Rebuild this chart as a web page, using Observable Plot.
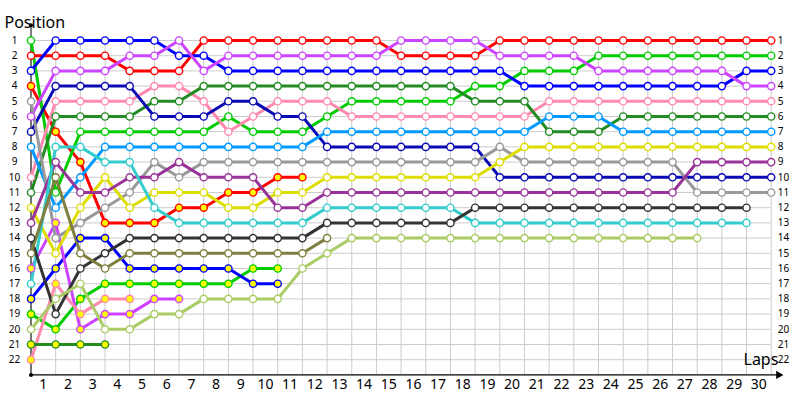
<!DOCTYPE html>
<html>
<head>
<meta charset="utf-8">
<script src="https://cdn.jsdelivr.net/npm/d3@7"></script>
<script src="https://cdn.jsdelivr.net/npm/@observablehq/plot@0.6"></script>
<style>
  html, body { margin: 0; padding: 0; background: #fff; }
  #chart svg { display: block; }
</style>
</head>
<body>
<div id="chart"></div>
<script>
// ---- data ----
const laps = d3.range(0, 31);          // columns: start (0) .. lap 30
const lapLabels = d3.range(1, 31);     // tick labels 1..30
const positionTicks = d3.range(1, 23); // 1..22

const driverNames  = ["Red A","Red B","Green A","Green B","Blue A","Blue B","Violet A","Violet B",
                      "Pink A","Pink B","DarkGreen A","DarkGreen B","DarkBlue","LightBlue","Grey",
                      "Yellow","Purple","Cyan","Black","Olive","LightOlive"];
const driverColors = ["#ff0000","#ff0000","#00cc00","#00cc00","#0000ff","#0000ff","#cc44ff","#cc44ff",
                      "#ff8aae","#ff8aae","#228b22","#228b22","#0a0ab4","#0099ff","#999999",
                      "#dddd00","#993399","#33cccc","#333333","#7f7f3f","#aacc66"];
const driverFills  = ["#ffffff","#ffff00","#ffffff","#ffff00","#ffffff","#ffff00","#ffffff","#ffff00",
                      "#ffffff","#ffff00","#ffffff","#ffff00","#ffffff","#ffffff","#ffffff",
                      "#ffffff","#ffffff","#ffffff","#ffffff","#ffffff","#ffffff"];

const posRedA       = [2,2,2,2,3,3,3,1,1,1,1,1,1,1,1,2,2,2,2,1,1,1,1,1,1,1,1,1,1,1,1];
const posRedB       = [4,7,9,13,13,13,12,12,11,11,10,10];
const posGreenA     = [1,11,7,7,7,7,7,7,6,7,7,7,6,5,5,5,5,5,4,4,3,3,3,2,2,2,2,2,2,2,2];
const posGreenB     = [19,20,18,17,17,17,17,17,17,16,16];
const posBlueA      = [3,1,1,1,1,1,2,2,3,3,3,3,3,3,3,3,3,3,3,3,4,4,4,4,4,4,4,4,4,3,3];
const posBlueB      = [18,16,14,14,16,16,16,16,16,17,17];
const posVioletA    = [6,3,3,3,2,2,1,3,2,2,2,2,2,2,2,1,1,1,1,2,2,2,2,3,3,3,3,3,3,4,4];
const posVioletB    = [16,13,20,19,19,18,18];
const posPinkA      = [10,5,5,5,5,4,4,5,7,6,5,5,5,6,6,6,6,6,6,6,6,5,5,5,5,5,5,5,5,5,5];
const posPinkB      = [22,17,19,18,18];
const posDarkGreenA = [11,6,6,6,6,5,5,4,4,4,4,4,4,4,4,4,4,4,5,5,5,7,7,7,6,6,6,6,6,6,6];
const posDarkGreenB = [21,21,21,21];
const posDarkBlue   = [7,4,4,4,4,6,6,6,5,5,6,6,8,8,8,8,8,8,8,10,10,10,10,10,10,10,10,10,10,10,10];
const posLightBlue  = [8,12,10,8,8,8,8,8,8,8,8,8,7,7,7,7,7,7,7,7,7,6,6,6,7,7,7,7,7,7,7];
const posGrey       = [5,14,13,12,11,9,10,9,9,9,9,9,9,9,9,9,9,9,9,8,9,9,9,9,9,9,9,11,11,11,11];
const posYellow     = [12,15,12,10,12,11,11,11,12,12,11,11,10,10,10,10,10,10,10,9,8,8,8,8,8,8,8,8,8,8,8];
const posPurple     = [13,9,11,11,10,10,9,10,10,10,12,12,11,11,11,11,11,11,11,11,11,11,11,11,11,11,11,9,9,9,9];
const posCyan       = [17,8,8,9,9,12,13,13,13,13,13,13,12,12,12,12,12,12,13,13,13,13,13,13,13,13,13,13,13,13];
const posBlack      = [14,19,16,15,14,14,14,14,14,14,14,14,13,13,13,13,13,13,12,12,12,12,12,12,12,12,12,12,12,12];
const posOlive      = [15,10,15,16,15,15,15,15,15,15,15,15,14];
const posLightOlive = [20,18,17,20,20,19,19,18,18,18,18,16,15,14,14,14,14,14,14,14,14,14,14,14,14,14,14,14];

const series = [posRedA,posRedB,posGreenA,posGreenB,posBlueA,posBlueB,posVioletA,posVioletB,
                posPinkA,posPinkB,posDarkGreenA,posDarkGreenB,posDarkBlue,posLightBlue,posGrey,
                posYellow,posPurple,posCyan,posBlack,posOlive,posLightOlive];

// long table built from the arrays
const rows = [];
series.forEach((arr, i) => arr.forEach((p, lap) => rows.push({
  driver: driverNames[i], color: driverColors[i], fill: driverFills[i], lap, pos: p
})));

// ---- chart ----
const font = "'Noto Sans', 'DejaVu Sans', sans-serif";
const chart = Plot.plot({
  width: 800,
  height: 400,
  marginLeft: 30.5,
  marginRight: 29.3,
  marginTop: 40,
  marginBottom: 25.6,
  x: {domain: [0, 30], axis: null},
  y: {domain: [1, 23], reverse: true, axis: null},
  color: {type: "identity"},
  style: {fontFamily: font, background: "#fff", overflow: "visible"},
  marks: [
    // grid
    Plot.ruleX(laps, {x: d => d, y1: 1, y2: 23, stroke: "#cccccc", strokeWidth: 1}),
    Plot.ruleY(positionTicks, {y: d => d, x1: 0, x2: 30, stroke: "#cccccc", strokeWidth: 1}),
    // axes
    Plot.ruleX([0], {x: d => d, y1: 0, y2: 23, stroke: "#000", strokeWidth: 1}),
    Plot.ruleY([23], {y: d => d, x1: 0, x2: 30.3, stroke: "#000", strokeWidth: 1.2}),
    Plot.dot([0, 23], {x: () => 0, y: d => d, r: 2, fill: "#000", stroke: null}),
    Plot.dot([30.3], {x: d => d, y: () => 23, symbol: "triangle2", rotate: 90, r: 4, fill: "#000", stroke: null}),
    // driver lines
    Plot.line(rows, {x: "lap", y: "pos", z: "driver", stroke: "color", strokeWidth: 3, strokeLinejoin: "round"}),
    // driver markers
    Plot.dot(rows, {x: "lap", y: "pos", r: 3.6, fill: "fill", stroke: "color", strokeWidth: 1.4}),
    // position labels
    Plot.text(positionTicks, {y: d => d, text: d => String(d), frameAnchor: "left", dx: -16.5,
      textAnchor: "middle", fontSize: 10, fill: "#000"}),
    Plot.text(positionTicks, {y: d => d, text: d => String(d), frameAnchor: "right", dx: 6.5,
      textAnchor: "start", fontSize: 10, fill: "#000"}),
    // lap labels (centered between columns)
    Plot.text(lapLabels, {x: d => d - 0.5, text: d => String(d), frameAnchor: "bottom", dy: 14.1,
      fontSize: 14, fill: "#000"}),
    // titles
    Plot.text(["Position"], {text: d => d, frameAnchor: "top-left", dx: -26.5, dy: -24.1,
      textAnchor: "start", fontSize: 16, fill: "#000"}),
    Plot.text(["Laps"], {text: d => d, frameAnchor: "bottom-right", dx: -27.7, dy: -9.5,
      textAnchor: "start", fontSize: 16, fill: "#000"})
  ]
});
document.getElementById("chart").appendChild(chart);
</script>
</body>
</html>
